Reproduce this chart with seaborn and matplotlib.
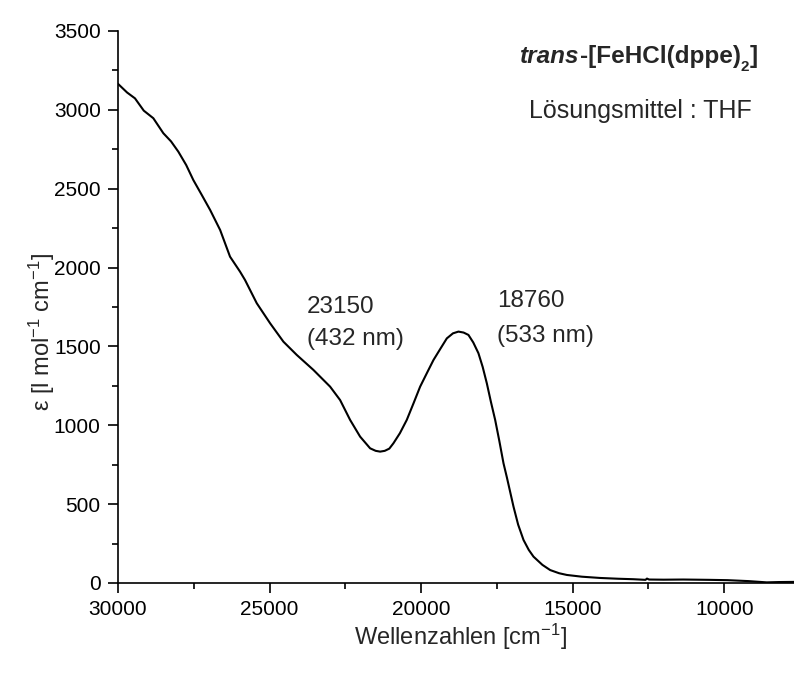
import numpy as np
import pandas as pd
import matplotlib
matplotlib.use("Agg")
import matplotlib.pyplot as plt
import seaborn as sns
from matplotlib.ticker import MultipleLocator

# UV/Vis-Spektrum trans-[FeHCl(dppe)2] in THF
wavenumber = [30000, 29700, 29440, 29150, 28835, 28505, 28250, 28010, 27750,
              27515, 27250, 26960, 26630, 26304, 25974, 25809, 25423, 24983,
              24543, 24103, 23554, 23003, 22673, 22343, 22013, 21683, 21500,
              21353, 21200, 21050, 20914, 20700, 20474, 20250, 20033, 19800,
              19593, 19350, 19153, 18950, 18770, 18600, 18440, 18280, 18110,
              17970, 17833, 17700, 17558, 17420, 17283, 17172, 16953, 16800,
              16623, 16450, 16293, 16000, 15743, 15450, 15193, 14700, 14100,
              13500, 13000, 12600, 12550, 12480, 12000, 11350, 10500, 9900,
              9200, 8600, 8200, 7700]
epsilon = [3165, 3110, 3073, 2995, 2947, 2852, 2800, 2735, 2650,
           2555, 2465, 2365, 2238, 2069, 1974, 1921, 1774, 1647,
           1530, 1446, 1351, 1245, 1160, 1034, 928, 854, 838,
           833, 838, 852, 886, 950, 1034, 1140, 1245, 1335,
           1414, 1490, 1551, 1583, 1594, 1588, 1573, 1525, 1457,
           1370, 1266, 1150, 1034, 900, 759, 670, 484, 370,
           273, 210, 167, 115, 82, 62, 51, 40, 32,
           27, 24, 20, 28, 22, 21, 22, 20, 18,
           12, 4, 6, 7]

peak_labels = [("23150", "(432 nm)"), ("18760", "(533 nm)")]
peak_text_pos = [(23760, 1712, 1509), (17490, 1750, 1528)]

df = pd.DataFrame({"Wellenzahl": wavenumber, "Epsilon": epsilon})

sns.set_style("ticks")
plt.rcParams["font.family"] = ["Liberation Sans", "DejaVu Sans"]
plt.rcParams["mathtext.fontset"] = "custom"
plt.rcParams["mathtext.rm"] = "Liberation Sans"
plt.rcParams["mathtext.default"] = "regular"

fig = plt.figure(figsize=(7.94, 6.75), dpi=100)
ax = fig.add_axes([118 / 794, 1 - 583 / 675, 676 / 794, 552 / 675])

sns.lineplot(data=df, x="Wellenzahl", y="Epsilon", color="black",
             linewidth=1.5, ax=ax)

ax.set_xlim(30000, 7700)
ax.set_ylim(0, 3500)
ax.xaxis.set_major_locator(MultipleLocator(5000))
ax.xaxis.set_minor_locator(MultipleLocator(2500))
ax.yaxis.set_major_locator(MultipleLocator(500))
ax.yaxis.set_minor_locator(MultipleLocator(250))
sns.despine(ax=ax)
for side in ["left", "bottom"]:
    ax.spines[side].set_linewidth(1.2)
    ax.spines[side].set_color("black")
ax.tick_params(which="major", direction="out", length=7.5, width=1.2,
               labelsize=15, pad=5, colors="black")
ax.tick_params(which="minor", direction="out", length=4, width=1.2,
               colors="black")

ax.set_xlabel("Wellenzahlen [cm$^{-1}$]", fontsize=17)
ax.xaxis.set_label_coords(0.507, -0.097)
ax.xaxis.label.set_va("center")
ax.set_ylabel("ε [l mol$^{-1}$ cm$^{-1}$]", fontsize=17)
ax.yaxis.set_label_coords(-0.112, 0.455)
ax.yaxis.label.set_va("center")

for (l1, l2), (x, y1, y2) in zip(peak_labels, peak_text_pos):
    ax.text(x, y1, l1, fontsize=17.5, ha="left", va="baseline")
    ax.text(x, y2, l2, fontsize=17.5, ha="left", va="baseline")

# Titel aus Teilstücken (fett-kursiv, fett, Index)
t1 = ax.text(0.595, 0.942, "trans", transform=ax.transAxes, fontsize=17.5,
             fontweight="bold", fontstyle="italic", ha="left", va="baseline")
t2 = ax.annotate("-[FeHCl(dppe)", xy=(1, 0), xycoords=t1, fontsize=17.5,
                 fontweight="bold", ha="left", va="bottom")
t3 = ax.annotate("2", xy=(1, 0), xycoords=t2, xytext=(0, -4),
                 textcoords="offset points", fontsize=11, fontweight="bold",
                 ha="left", va="bottom")
ax.annotate("]", xy=(1, 0), xycoords=(t3, t2), fontsize=17.5,
            fontweight="bold", ha="left", va="bottom")

ax.text(0.938, 0.842, "Lösungsmittel : THF", transform=ax.transAxes,
        fontsize=18, ha="right", va="baseline")

fig.savefig("out.png", dpi=100)
